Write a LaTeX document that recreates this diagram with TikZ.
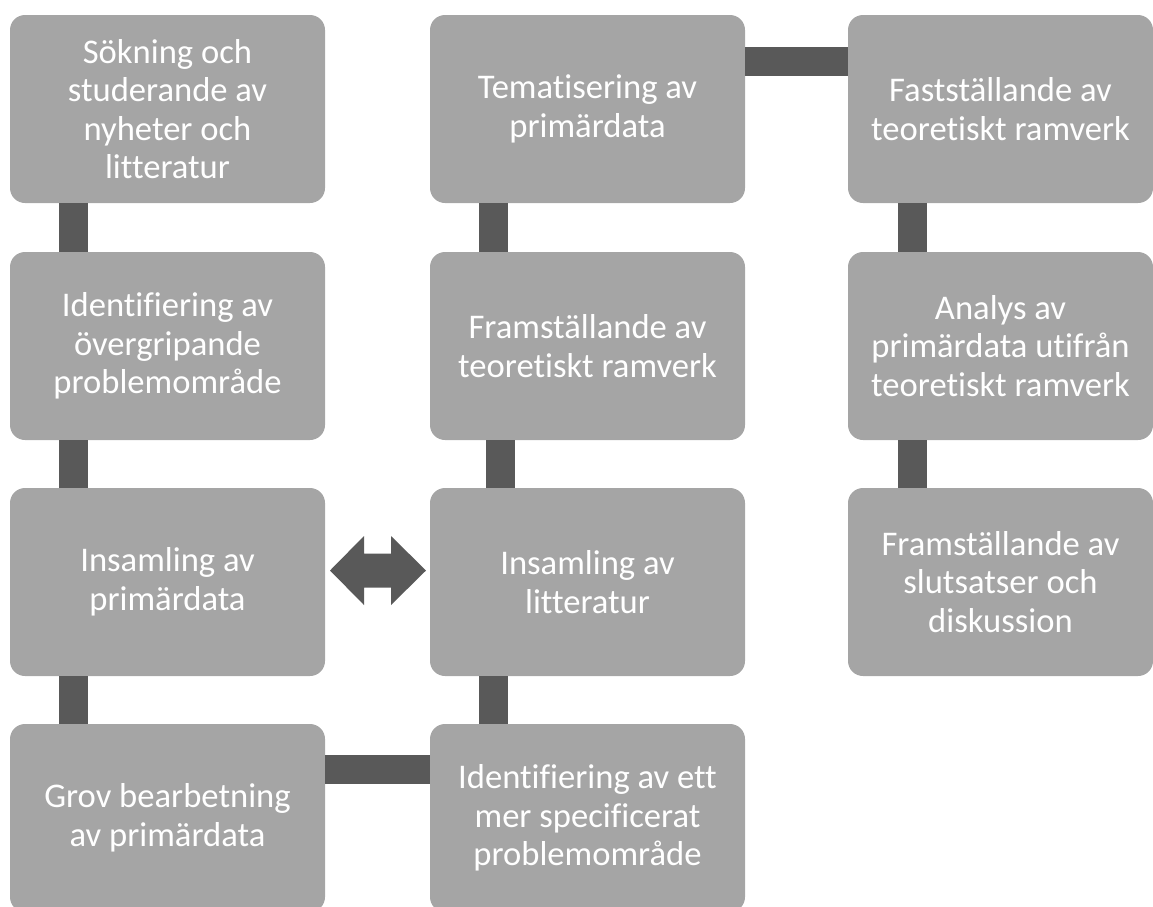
\documentclass[tikz,border=0pt]{standalone}
\usepackage{fontspec}
\setmainfont{Carlito}[Ligatures=NoCommon]
\usetikzlibrary{calc}
\definecolor{boxgray}{HTML}{A5A5A5}
\definecolor{conngray}{HTML}{595959}
\tikzset{
  stepbox/.style={rectangle, rounded corners=15pt, fill=boxgray, draw=none,
    minimum width=315pt, minimum height=188pt, inner sep=0pt, text=white,
    align=center, font=\fontsize{34.6}{38.5}\selectfont},
  narrowbox/.style={stepbox, minimum width=305pt},
  conn/.style={draw=conngray, line width=29pt}
}
\begin{document}
\begin{tikzpicture}[x=1pt,y=1pt]
\useasboundingbox (0,0) rectangle (1153,-906);
\clip (0,0) rectangle (1153,-906);
% column 1
\node[stepbox] (a1) at (167.5,-109) {Sökning och\\studerande av\\nyheter och\\litteratur};
\node[stepbox] (a2) at (167.5,-346) {Identifiering av\\övergripande\\problemområde};
\node[stepbox] (a3) at (167.5,-582) {Insamling av\\primärdata};
\node[stepbox] (a4) at (167.5,-818) {Grov bearbetning\\av primärdata};
% column 2
\node[stepbox] (b1) at (587.5,-109) {Tematisering av\\primärdata};
\node[stepbox] (b2) at (587.5,-346) {Framställande av\\teoretiskt ramverk};
\node[stepbox] (b3) at (587.5,-582) {Insamling av\\litteratur};
\node[stepbox] (b4) at (587.5,-818) {Identifiering av ett\\mer specificerat\\problemområde};
% column 3
\node[narrowbox] (c1) at (1000.5,-109) {Fastställande av\\teoretiskt ramverk};
\node[narrowbox] (c2) at (1000.5,-346) {Analys av\\primärdata utifrån\\teoretiskt ramverk};
\node[narrowbox] (c3) at (1000.5,-582) {Framställande av\\slutsatser och\\diskussion};
% connectors
\draw[conn] ([xshift=63.5pt]a1.south west) -- ([xshift=63.5pt]a2.north west);
\draw[conn] ([xshift=63.5pt]a2.south west) -- ([xshift=63.5pt]a3.north west);
\draw[conn] ([xshift=63.5pt]a3.south west) -- ([xshift=63.5pt]a4.north west);
\draw[conn] ([yshift=-46pt]a4.north east) -- ([yshift=-46pt]b4.north west);
\draw[conn] ([xshift=63.5pt]b4.north west) -- ([xshift=63.5pt]b3.south west);
\draw[conn] ([xshift=70.5pt]b3.north west) -- ([xshift=70.5pt]b2.south west);
\draw[conn] ([xshift=63.5pt]b2.north west) -- ([xshift=63.5pt]b1.south west);
\draw[conn] ([yshift=-46.5pt]b1.north east) -- ([yshift=-46.5pt]c1.north west);
\draw[conn] ([xshift=64.5pt]c1.south west) -- ([xshift=64.5pt]c2.north west);
\draw[conn] ([xshift=64.5pt]c2.south west) -- ([xshift=64.5pt]c3.north west);
% double arrow between a3 and b3
\coordinate (dac) at ($(a3.east)!0.5!(b3.west)+(0,11.5)$);
\fill[conngray] ($(dac)+(-47.5,0)$) -- ($(dac)+(-13.5,34.5)$) -- ($(dac)+(-13.5,17)$)
  -- ($(dac)+(13.5,17)$) -- ($(dac)+(13.5,34.5)$) -- ($(dac)+(48.5,0)$)
  -- ($(dac)+(13.5,-34.5)$) -- ($(dac)+(13.5,-17)$) -- ($(dac)+(-13.5,-17)$)
  -- ($(dac)+(-13.5,-34.5)$) -- cycle;
\end{tikzpicture}
\end{document}
